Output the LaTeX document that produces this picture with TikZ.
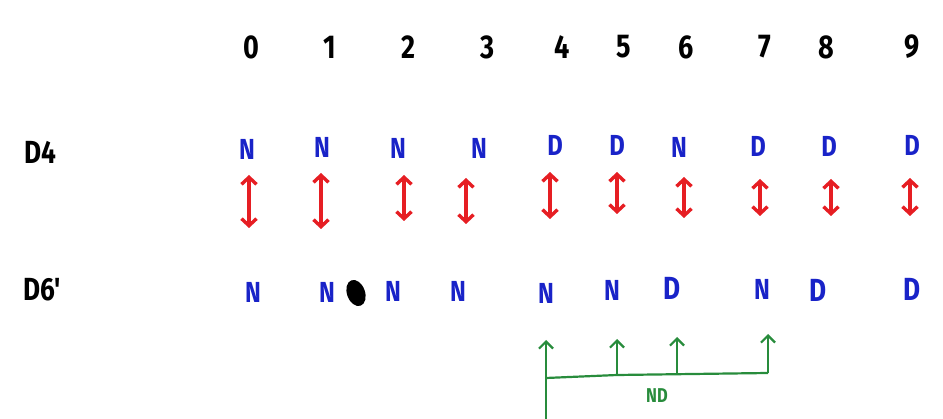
\documentclass[tikz,border=0pt]{standalone}
\usepackage{fontspec}
\setmainfont{Fira Sans}
\newfontfamily\handfont{Fira Sans}[FakeStretch=0.82]
\usetikzlibrary{arrows.meta,shapes.geometric}
\definecolor{hblue}{RGB}{25,35,200}
\definecolor{hred}{RGB}{230,30,35}
\definecolor{hgreen}{RGB}{40,140,60}
\tikzset{
  digit/.style={font=\handfont\fontsize{33}{33}\selectfont\bfseries, text=black, inner sep=0pt},
  lbl/.style={font=\handfont\fontsize{32}{32}\selectfont\bfseries, text=black, inner sep=0pt},
  letter/.style={font=\handfont\fontsize{29}{29}\selectfont\bfseries, text=hblue, inner sep=0pt},
  bigletter/.style={font=\handfont\fontsize{32}{32}\selectfont\bfseries, text=hblue, inner sep=0pt},
  redarrow/.style={draw=hred, line width=3.4pt, {Straight Barb[length=7pt,width=15pt]}-{Straight Barb[length=7pt,width=15pt]}},
  garrow/.style={draw=hgreen, line width=2.2pt, -{Straight Barb[length=7pt,width=14pt]}},
  gline/.style={draw=hgreen, line width=2.2pt},
}
\begin{document}
\begin{tikzpicture}[x=1pt,y=-1pt]
\useasboundingbox (0,0) rectangle (943,419);
% column numbers
\foreach \n/\x in {0/251,1/330,2/408,3/488,4/562,5/624,6/686,7/765,8/826,9/912}
  \node[digit] (d\n) at (\x,47) {\n};
% row labels
\node[lbl] (lD4) at (40,152) {D4};
\node[lbl] (lD6) at (42,290) {D6'};
% top row
\foreach \n/\x/\y/\c in {0/247/149/N,1/322/147/N,2/398/148/N,3/479/148/N,4/555/145/D,5/617/145/D,6/679/147/N,7/758/146/D,8/829/146/D,9/912/145/D}
  \node[letter] (t\n) at (\x,\y) {\c};
% red arrows
\foreach \n/\x/\ya/\yb in {0/249/175/228,1/321/173/229,2/404/175/221,3/466/178/224,4/550/172/219,5/617/172/214,6/684/177/218,7/760/179/216,8/831/179/216,9/910/178/216}{
  \coordinate (ra\n) at (\x,\ya);
  \coordinate (rb\n) at (\x,\yb);
  \draw[redarrow] (ra\n) -- (rb\n);
}
% bottom row
\foreach \n/\x/\y/\c in {0/253/292/N,1/327/292/N,2/393/291/N,3/458/291/N,4/546/293/N,5/612/290/N,7/762/289/N}
  \node[letter] (b\n) at (\x,\y) {\c};
\foreach \n/\x/\y/\c in {6/672/288/D,8/818/290/D,9/912/289/D}
  \node[bigletter] (b\n) at (\x,\y) {\c};
\node[fill=black, ellipse, minimum width=18pt, minimum height=27pt, inner sep=0pt, rotate=20] (dot) at (356,293) {};
% green bracket
\coordinate (gbot) at (546,419);
\coordinate (gl) at (546,378);
\coordinate (gm) at (617,375);
\coordinate (g6) at (677,374);
\coordinate (gr) at (768,373);
\coordinate (g4t) at (546,340);
\coordinate (g5t) at (617,339);
\coordinate (g6t) at (677,337);
\coordinate (g7t) at (768,334);
\draw[gline] (gl) -- (gm) -- (gr);
\draw[garrow] (gbot) -- (g4t);
\draw[garrow] (gm) -- (g5t);
\draw[garrow] (g6) -- (g6t);
\draw[garrow] (gr) -- (g7t);
\node[font=\handfont\fontsize{20}{20}\selectfont\bfseries, text=hgreen, inner sep=0pt] (nd) at (657,396) {ND};
\end{tikzpicture}
\end{document}
